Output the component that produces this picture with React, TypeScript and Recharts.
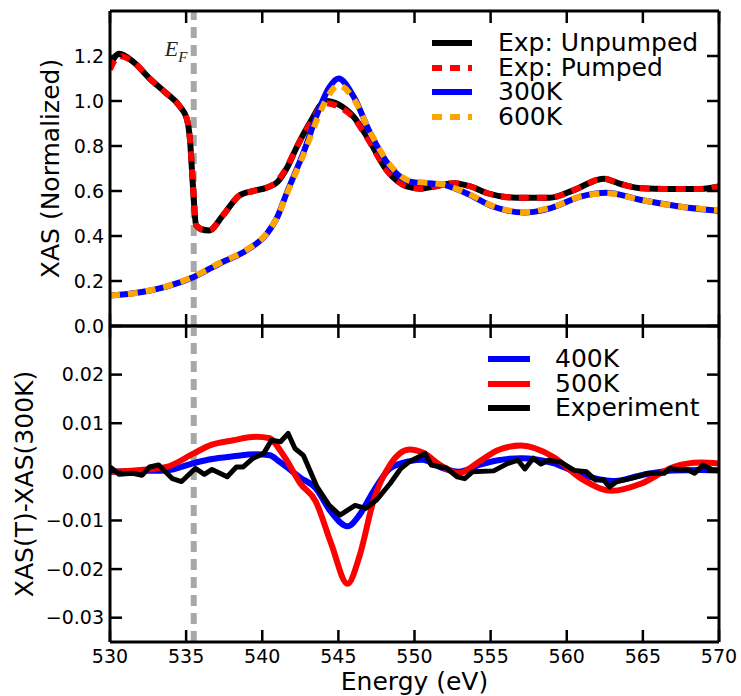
import { LineChart, Line, XAxis, YAxis, ReferenceLine, Legend } from 'recharts';

const energyTicks = [530, 535, 540, 545, 550, 555, 560, 565, 570];
const xasTicks = [0, 0.2, 0.4, 0.6, 0.8, 1.0, 1.2];
const diffTicks = [-0.03, -0.02, -0.01, 0, 0.01, 0.02];
const fermiEnergy = 535.5;

// top panel: measured spectra
const expEnergy = [530.0, 530.6, 531.6, 532.6, 533.6, 534.6, 535.05, 535.25, 535.45, 535.65, 536.0, 536.5, 537.4, 538.5, 539.4, 540.3, 541.0, 541.6, 542.3, 543.1, 544.2, 545.0, 546.0, 546.9, 548.2, 549.5, 550.4, 551.3, 552.6, 553.7, 554.8, 556.7, 558.9, 560.5, 562.4, 563.6, 564.9, 566.6, 568.8, 570.0];
const expUnpumped = [1.16, 1.21, 1.17, 1.10, 1.04, 0.975, 0.92, 0.83, 0.62, 0.45, 0.43, 0.425, 0.49, 0.58, 0.60, 0.615, 0.64, 0.70, 0.80, 0.90, 1.00, 0.985, 0.93, 0.84, 0.69, 0.62, 0.61, 0.62, 0.635, 0.62, 0.59, 0.57, 0.57, 0.605, 0.655, 0.63, 0.612, 0.609, 0.609, 0.62];
const expPumped = [1.14, 1.20, 1.17, 1.10, 1.04, 0.975, 0.92, 0.83, 0.63, 0.45, 0.43, 0.425, 0.49, 0.58, 0.60, 0.615, 0.645, 0.705, 0.80, 0.895, 0.99, 0.975, 0.925, 0.835, 0.69, 0.62, 0.61, 0.62, 0.635, 0.62, 0.59, 0.57, 0.57, 0.605, 0.655, 0.63, 0.612, 0.609, 0.609, 0.62];

// top panel: calculated spectra
const calcEnergy = [530.0, 532.0, 533.7, 535.5, 537.2, 539.0, 540.3, 541.0, 541.6, 542.7, 543.8, 544.4, 545.0, 546.0, 547.1, 548.4, 549.7, 551.9, 553.4, 555.2, 557.2, 558.9, 560.9, 562.6, 564.9, 567.5, 570.0];
const xas300K = [0.135, 0.150, 0.175, 0.218, 0.278, 0.338, 0.41, 0.486, 0.59, 0.77, 0.975, 1.06, 1.10, 1.02, 0.856, 0.708, 0.641, 0.627, 0.59, 0.53, 0.504, 0.523, 0.575, 0.592, 0.56, 0.53, 0.512];
const xas600K = [0.135, 0.150, 0.176, 0.22, 0.28, 0.34, 0.412, 0.485, 0.585, 0.76, 0.95, 1.03, 1.07, 1.01, 0.86, 0.715, 0.645, 0.628, 0.592, 0.532, 0.506, 0.525, 0.575, 0.59, 0.56, 0.53, 0.515];

// bottom panel: differences
const diffEnergy = [530, 532, 533.7, 535.5, 536.6, 538.1, 539.6, 540.5, 541.0, 541.6, 542.5, 543.5, 544.5, 545.6, 546.4, 547.3, 548.4, 549.7, 550.5, 551.8, 552.9, 554.3, 555.5, 557.0, 559.1, 561.0, 563.0, 564.9, 567.0, 568.8, 570];
const diff400K = [0, 0.0002, 0.0003, 0.0018, 0.0026, 0.0032, 0.0036, 0.0034, 0.0024, 0.001, -0.0012, -0.0033, -0.0082, -0.0112, -0.0088, -0.004, 0.0007, 0.0022, 0.0025, 0.0008, 0, 0.0015, 0.0024, 0.0028, 0.0018, -0.0006, -0.0019, -0.0007, 0.0003, 0.0004, 0.0003];
const diff500K = [0, 0.0004, 0.001, 0.0038, 0.0055, 0.0065, 0.0072, 0.0069, 0.0052, 0.0024, -0.0024, -0.006, -0.0145, -0.023, -0.0172, -0.006, 0.0015, 0.0046, 0.004, 0.0012, -0.0003, 0.0022, 0.0045, 0.0054, 0.0031, -0.0015, -0.0039, -0.0024, 0.001, 0.0019, 0.0017];
const expDiffEnergy = [530.0, 530.6, 531.5, 532.1, 532.6, 533.2, 534.1, 534.7, 535.6, 536.2, 536.7, 537.7, 538.3, 538.75, 539.4, 540.1, 540.6, 541.2, 541.7, 542.15, 542.7, 543.6, 544.4, 545.1, 546.1, 546.8, 547.5, 548.4, 549.1, 549.7, 550.3, 550.7, 551.1, 552.1, 552.8, 553.3, 553.8, 555.2, 556.1, 556.8, 557.25, 557.8, 558.3, 558.8, 559.6, 560.5, 561.3, 561.9, 562.4, 562.8, 563.3, 564.4, 565.3, 566.4, 566.8, 567.5, 567.9, 568.4, 568.95, 569.6, 570.0];
const expDiff = [0.001, -0.0005, -0.0003, -0.0007, 0.001, 0.0014, -0.0014, -0.002, 0.0007, -0.0005, 0.0005, -0.001, 0.001, 0.001, 0.0028, 0.0038, 0.0065, 0.0062, 0.0079, 0.0048, 0.0034, -0.0031, -0.0069, -0.0089, -0.0069, -0.0075, -0.0058, -0.0024, 0.0007, 0.0022, 0.0031, 0.0038, 0.0014, 0.0008, -0.001, -0.0014, 0, 0.0002, 0.0017, 0.0024, 0.0006, 0.0028, 0.0016, 0.0024, 0.002, 0.0003, 0, -0.0017, -0.0016, -0.0031, -0.002, -0.0012, -0.0003, -0.0003, 0.0007, 0.0004, 0.0005, -0.0003, 0.0014, 0.0004, 0.0004];

const zip = (xs: number[], ys: number[]) => xs.map((x, i) => ({ x, y: ys[i] }));

type Series = { name: string; data: { x: number; y: number }[]; color: string; width: number; dash?: string; curve: 'monotone' | 'linear' };

const topSeries: Series[] = [
  { name: 'Exp: Unpumped', data: zip(expEnergy, expUnpumped), color: '#000000', width: 6, curve: 'monotone' },
  { name: 'Exp: Pumped', data: zip(expEnergy, expPumped), color: '#ff0000', width: 6, dash: '10 8', curve: 'monotone' },
  { name: '300K', data: zip(calcEnergy, xas300K), color: '#0000ff', width: 6, curve: 'monotone' },
  { name: '600K', data: zip(calcEnergy, xas600K), color: '#ffa500', width: 6, dash: '10 8', curve: 'monotone' },
];

const bottomSeries: Series[] = [
  { name: '400K', data: zip(diffEnergy, diff400K), color: '#0000ff', width: 6, curve: 'monotone' },
  { name: '500K', data: zip(diffEnergy, diff500K), color: '#ff0000', width: 6, curve: 'monotone' },
  { name: 'Experiment', data: zip(expDiffEnergy, expDiff), color: '#000000', width: 5, curve: 'linear' },
];

const FONT = 'DejaVu Sans';
const frame = { stroke: '#000', strokeWidth: 3 };
const tickLine = { stroke: '#000', strokeWidth: 2.5 };
const tickFont = { fontSize: 19, fill: '#000', fontFamily: FONT };
const noTick = () => <g />;

const fmtDiff = (v: number) => (v < 0 ? '\u2212' : '') + Math.abs(v).toFixed(2);

const LegendBox = ({ items, sample, gap }: { items: Series[]; sample: number; gap: number }) => (
  <div style={{ fontFamily: FONT, fontSize: 25, color: '#000' }}>
    {items.map((s) => (
      <div key={s.name} style={{ display: 'flex', alignItems: 'center', height: 24.5, whiteSpace: 'nowrap' }}>
        <svg width={sample} height={10} style={{ marginRight: gap, flex: 'none' }}>
          <line x1={0} y1={5} x2={sample} y2={5} stroke={s.color} strokeWidth={6} strokeDasharray={s.dash} />
        </svg>
        <span style={{ display: 'inline-block', height: 24.5, lineHeight: '24.5px', overflow: 'visible' }}>{s.name}</span>
      </div>
    ))}
  </div>
);

const FermiLabel = ({ viewBox }: any) => (
  <text x={viewBox.x - 29} y={viewBox.y + 45} fontFamily="Liberation Serif" fontStyle="italic" fontSize={22} fill="#222">
    E<tspan dy={6} fontSize={15}>F</tspan>
  </text>
);

const renderLines = (list: Series[]) =>
  list.map((s) => (
    <Line
      key={s.name}
      data={s.data}
      dataKey="y"
      name={s.name}
      type={s.curve}
      stroke={s.color}
      strokeWidth={s.width}
      strokeDasharray={s.dash}
      strokeLinejoin="round"
      dot={false}
      activeDot={false}
      isAnimationActive={false}
    />
  ));

// mirrored axes: frame lines on the plot edges with ticks pointing inward
const frameAxes = (yDomain: number[], yTicks: number[]) => [
  <XAxis key="fb" xAxisId="fb" dataKey="x" type="number" domain={[530, 570]} ticks={energyTicks} interval={0} allowDataOverflow
    orientation="bottom" mirror height={20} tick={noTick} tickSize={12} axisLine={frame} tickLine={tickLine} />,
  <XAxis key="ft" xAxisId="ft" dataKey="x" type="number" domain={[530, 570]} ticks={energyTicks} interval={0} allowDataOverflow
    orientation="top" mirror height={20} tick={noTick} tickSize={12} axisLine={frame} tickLine={tickLine} />,
  <YAxis key="fl" yAxisId="fl" type="number" domain={yDomain} ticks={yTicks} interval={0} allowDataOverflow
    orientation="left" mirror width={20} tick={noTick} tickSize={12} axisLine={frame} tickLine={tickLine} />,
  <YAxis key="fr" yAxisId="fr" type="number" domain={yDomain} ticks={yTicks} interval={0} allowDataOverflow
    orientation="right" mirror width={20} tick={noTick} tickSize={12} axisLine={frame} tickLine={tickLine} />,
];

export default function App() {
  return (
    <div style={{ position: 'absolute', left: 0, top: 0, width: 741, height: 696, background: '#fff', fontFamily: FONT }}>
      <div style={{ position: 'absolute', left: 0, top: 0 }}>
        <LineChart width={741} height={340} margin={{ top: 11, right: 22, bottom: 14, left: 0 }}>
          <XAxis dataKey="x" type="number" domain={[530, 570]} ticks={energyTicks} interval={0} allowDataOverflow hide />
          <YAxis type="number" domain={[0, 1.4]} ticks={xasTicks} interval={0} allowDataOverflow width={110}
            tickSize={0} tickMargin={6} tick={tickFont} tickFormatter={(v: number) => v.toFixed(1)}
            axisLine={false} tickLine={false}
            label={{ value: 'XAS (Normalized)', angle: -90, position: 'insideLeft', offset: 50, style: { textAnchor: 'middle', fontSize: 25, fill: '#000', fontFamily: FONT } }} />
          {frameAxes([0, 1.4], xasTicks)}
          <ReferenceLine x={fermiEnergy} stroke="#a8a8a8" strokeWidth={6} strokeDasharray="11 7" label={<FermiLabel />} />
          {renderLines(topSeries)}
          <Legend layout="vertical" align="center" verticalAlign="middle"
            wrapperStyle={{ left: 432, top: 31, width: 'auto', height: 'auto' }}
            content={() => <LegendBox items={topSeries} sample={40} gap={26} />} />
        </LineChart>
      </div>
      <div style={{ position: 'absolute', left: 0, top: 322 }}>
        <LineChart width={741} height={374} margin={{ top: 4, right: 22, bottom: 0, left: 0 }}>
          <XAxis dataKey="x" type="number" domain={[530, 570]} ticks={energyTicks} interval={0} allowDataOverflow
            orientation="bottom" height={54} tickSize={0} tickMargin={8} tick={tickFont}
            axisLine={false} tickLine={false}
            label={{ value: 'Energy (eV)', position: 'insideBottom', offset: 6, style: { fontSize: 25, fill: '#000', fontFamily: FONT } }} />
          <YAxis type="number" domain={[-0.035, 0.03]} ticks={diffTicks} interval={0} allowDataOverflow width={110}
            tickSize={0} tickMargin={6} tick={tickFont} tickFormatter={fmtDiff}
            axisLine={false} tickLine={false}
            label={{ value: 'XAS(T)-XAS(300K)', angle: -90, position: 'insideLeft', offset: 24, style: { textAnchor: 'middle', fontSize: 25, fill: '#000', fontFamily: FONT } }} />
          {frameAxes([-0.035, 0.03], diffTicks)}
          <ReferenceLine x={fermiEnergy} stroke="#a8a8a8" strokeWidth={6} strokeDasharray="11 7" />
          {renderLines(bottomSeries)}
          <Legend layout="vertical" align="center" verticalAlign="middle"
            wrapperStyle={{ left: 488, top: 25, width: 'auto', height: 'auto' }}
            content={() => <LegendBox items={bottomSeries} sample={42} gap={25} />} />
        </LineChart>
      </div>
    </div>
  );
}
